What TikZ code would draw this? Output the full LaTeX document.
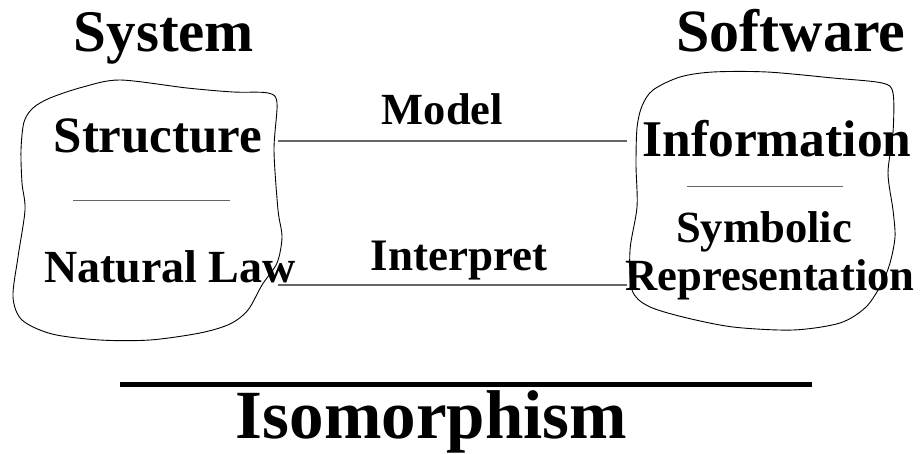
\documentclass[tikz,border=0pt]{standalone}
\usepackage{fontspec}
\setmainfont{Liberation Serif}
\tikzset{
  lbl/.style={anchor=base, inner sep=0pt, font=\bfseries\fontsize{#1}{#1}\selectfont},
  blob/.style={draw=black, line width=0.9pt},
  link/.style={draw=black!60, line width=1.1pt},
  sep/.style={draw=black!60, line width=1pt},
  bar/.style={draw=black, line width=5pt}
}
\begin{document}
\begin{tikzpicture}[x=1pt, y=-1pt]
\useasboundingbox (0,0) rectangle (920,454);
% blobs
\draw[blob] plot[smooth cycle, tension=0.5] coordinates {
 (33,108) (50,98) (83,87) (120,80) (187,88) (233,92) (268,93) (277,103)
 (274,150) (278,210) (282,237) (277,263) (262,285) (248,310) (230,324)
 (200,333) (150,340) (100,340) (52,334) (22,320) (13,297) (18,257)
 (25,210) (22,183) (21,150) (24,122)};
\draw[blob] plot[smooth cycle, tension=0.5] coordinates {
 (642,106) (653,90) (680,77) (713,72) (767,72) (833,78) (882,83) (893,93)
 (893,133) (888,173) (893,210) (895,237) (890,263) (882,283) (866,307)
 (840,323) (793,330) (733,327) (683,317) (648,306) (632,290) (630,250)
 (637,207) (636,165) (637,128)};
% titles
\node[lbl=59] (system) at (164,52) {System};
\node[lbl=60] (software) at (791,52) {Software};
% left contents
\node[lbl=51] (structure) at (158,153) {Structure};
\node[lbl=46] (natlaw) at (170,282) {Natural Law};
\coordinate (ls1) at (73,201);
\coordinate (ls2) at (230,201);
\draw[sep] (ls1) -- (ls2);
% right contents
\node[lbl=51.5] (information) at (777,157) {Information};
\node[lbl=44.6] (symbolic) at (764,243) {Symbolic};
\node[lbl=44.6] (representation) at (770,290) {Representation};
\coordinate (rs1) at (687,187);
\coordinate (rs2) at (843,187);
\draw[sep] (rs1) -- (rs2);
% links
\node[lbl=44.5] (model) at (442.5,125) {Model};
\node[lbl=45] (interpret) at (459,270) {Interpret};
\coordinate (m1) at (278,141);
\coordinate (m2) at (627,141);
\draw[link] (m1) -- (m2);
\coordinate (i1) at (278,285);
\coordinate (i2) at (627,285);
\draw[link] (i1) -- (i2);
% bottom
\coordinate (b1) at (120,384);
\coordinate (b2) at (812,384);
\draw[bar] (b1) -- (b2);
\node[lbl=69] (iso) at (431.5,438) {Isomorphism};
\end{tikzpicture}
\end{document}
